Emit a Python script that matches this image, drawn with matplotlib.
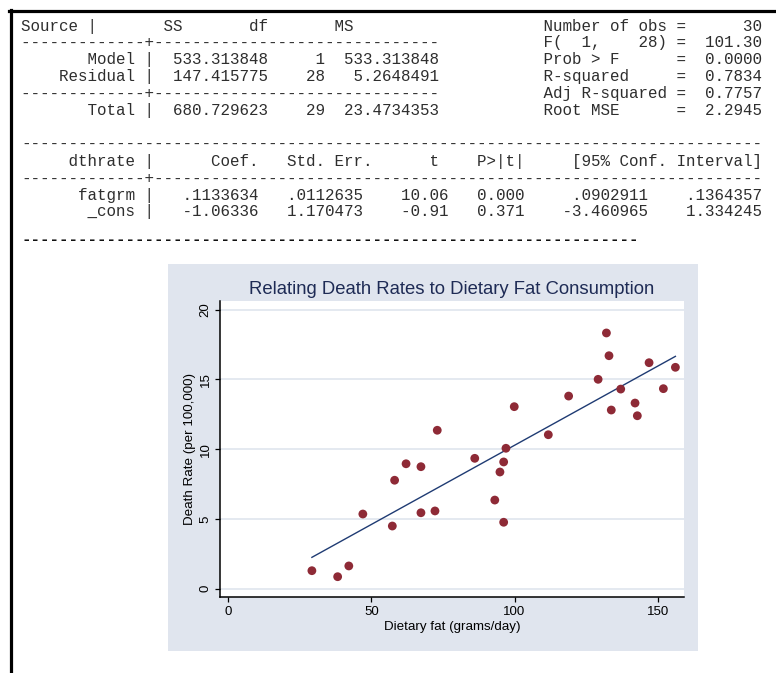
import matplotlib
matplotlib.use('Agg')
import matplotlib.pyplot as plt
from matplotlib.lines import Line2D
from matplotlib.patches import Rectangle

# ---- data ----
fatgrm = [29.2, 38.2, 42.1, 47.0, 57.3, 58.1, 62.1, 67.3, 67.3, 72.2,
          73.0, 86.1, 93.1, 94.9, 96.2, 96.2, 97.0, 99.9, 111.8, 118.9,
          129.2, 132.1, 133.0, 133.8, 137.1, 142.1, 142.9, 147.0, 152.0, 156.2]
dthrate = [1.29, 0.86, 1.63, 5.35, 4.49, 7.77, 8.95, 8.74, 5.44, 5.57,
           11.35, 9.34, 6.35, 8.36, 9.08, 4.76, 10.06, 13.04, 11.03, 13.8,
           15.0, 18.32, 16.69, 12.8, 14.3, 13.3, 12.39, 16.19, 14.33, 15.86]

# regression coefficients (from the table)
b_fat = 0.1133634
b_cons = -1.06336

x_ticks = [0, 50, 100, 150]
y_ticks = [0, 5, 10, 15, 20]

# regression output text
anova_left = [
    "Source |       SS       df       MS",
    "-------------+------------------------------",
    "       Model |  533.313848     1  533.313848",
    "    Residual |  147.415775    28   5.2648491",
    "-------------+------------------------------",
    "       Total |  680.729623    29  23.4734353",
]
anova_right = [
    "Number of obs =      30",
    "F(  1,    28) =  101.30",
    "Prob > F      =  0.0000",
    "R-squared     =  0.7834",
    "Adj R-squared =  0.7757",
    "Root MSE      =  2.2945",
]
coef_lines = [
    "",
    "-" * 78,
    "     dthrate |      Coef.   Std. Err.      t    P>|t|     [95% Conf. Interval]",
    "-------------+----------------------------------------------------------------",
    "      fatgrm |   .1133634   .0112635    10.06   0.000     .0902911    .1364357",
    "       _cons |   -1.06336   1.170473    -0.91   0.371    -3.460965    1.334245",
]

W, H = 776, 673
fig = plt.figure(figsize=(W / 100, H / 100), dpi=100)


def fx(px):
    return px / W


def fy(py):
    return 1 - py / H


# black frame (top + left)
fig.add_artist(Line2D([fx(10.5), fx(10.5)], [0, fy(9.5)], color='black', lw=2.3))
fig.add_artist(Line2D([fx(9.4), 1], [fy(10.5), fy(10.5)], color='black', lw=2.3))

# table text
mono = dict(family='Liberation Mono', size=11.46, color='#2e2e2e', ha='left', va='baseline')
lines = [l.ljust(55) + r for l, r in zip(anova_left, anova_right)] + coef_lines
for i, line in enumerate(lines):
    fig.text(fx(21), fy(30.5 + 16.9 * i), line, **mono)
fig.text(fx(21), fy(243.5), "-" * 65, fontweight='bold',
         **{**mono, 'color': '#111111'})

# graph region background
fig.add_artist(Rectangle((fx(168), fy(651)), (698 - 168) / W, (651 - 264) / H,
                         transform=fig.transFigure, facecolor='#E0E5EE',
                         edgecolor='none', zorder=-1))

ax = fig.add_axes([fx(220.3), fy(596.7), (683.7 - 220.3) / W, (596.7 - 301) / H])
ax.set_facecolor('white')
for s in ['top', 'right']:
    ax.spines[s].set_visible(False)
for s in ['left', 'bottom']:
    ax.spines[s].set_linewidth(1.1)
    ax.spines[s].set_color('black')

ax.yaxis.grid(True, color='#E2E7EF', lw=1.3)
ax.set_axisbelow(True)

ax.scatter(fatgrm, dthrate, s=40, color='#8E2A36', edgecolors='none', zorder=3)
xs = sorted(fatgrm)
ax.plot(xs, [b_cons + b_fat * x for x in xs], color='#1F3B73', lw=1.0, zorder=2)

ax.set_xlim(-2.8, 159.1)
ax.set_ylim(-0.573, 20.61)
ax.set_xticks(x_ticks)
ax.set_yticks(y_ticks)
ax.set_xticklabels([str(t) for t in x_ticks], family='Liberation Sans')
ax.set_yticklabels([str(t) for t in y_ticks], rotation=90, va='center',
                   family='Liberation Sans')
ax.tick_params(axis='x', direction='out', length=3.6, width=0.9, labelsize=9.5, pad=2.9)
ax.tick_params(axis='y', direction='out', length=3.6, width=0.9, labelsize=9.5, pad=2.7)

fig.text(fx(452), fy(289), "Relating Death Rates to Dietary Fat Consumption",
         ha='center', va='center', fontsize=13.3, color='#1E2B55', family='Liberation Sans')
fig.text(fx(452), fy(627), "Dietary fat (grams/day)", ha='center', va='center',
         fontsize=9.6, family='Liberation Sans')
fig.text(fx(190), fy(449), "Death Rate (per 100,000)", ha='center', va='center',
         rotation=90, fontsize=9.6, family='Liberation Sans')

fig.savefig('out.png', dpi=100, facecolor='white')
